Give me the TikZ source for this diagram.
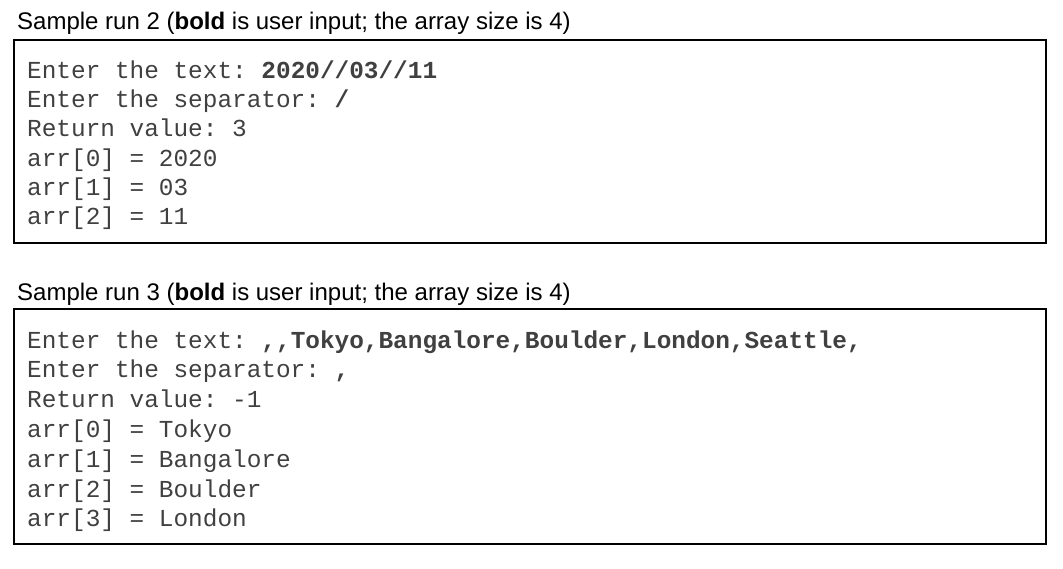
\documentclass[tikz,border=0pt]{standalone}
\usepackage{fontspec}
\setmainfont{Liberation Sans}
\setmonofont{Liberation Mono}
\begin{document}
\begin{tikzpicture}[x=1pt,y=-1pt,
  hd/.style={anchor=base west,inner sep=0,font=\fontsize{24}{28}\selectfont},
  cd/.style={anchor=base west,inner sep=0,font=\fontsize{24.4}{28}\ttfamily\selectfont,text=black!75},
  bx/.style={draw=black,line width=1.3pt}]
\useasboundingbox (0,0) rectangle (1063,568);
\node[hd] (h1) at (17,29) {Sample run 2 (\textbf{bold} is user input; the array size is 4)};
\draw[bx] (14,40) rectangle (1046,243);
\node[cd] (a1) at (27,78) {Enter the text: \textbf{2020//03//11}};
\node[cd] (a2) at (27,107) {Enter the separator: \textbf{/}};
\node[cd] (a3) at (27,136) {Return value: 3};
\node[cd] (a4) at (27,166) {arr[0] = 2020};
\node[cd] (a5) at (27,195) {arr[1] = 03};
\node[cd] (a6) at (27,224) {arr[2] = 11};
\node[hd] (h2) at (17,300) {Sample run 3 (\textbf{bold} is user input; the array size is 4)};
\draw[bx] (14,309) rectangle (1046,544);
\node[cd] (b1) at (27,348) {Enter the text: \textbf{,,Tokyo,Bangalore,Boulder,London,Seattle,}};
\node[cd] (b2) at (27,377) {Enter the separator: \textbf{,}};
\node[cd] (b3) at (27,407) {Return value: -1};
\node[cd] (b4) at (27,437) {arr[0] = Tokyo};
\node[cd] (b5) at (27,467) {arr[1] = Bangalore};
\node[cd] (b6) at (27,497) {arr[2] = Boulder};
\node[cd] (b7) at (27,526) {arr[3] = London};
\end{tikzpicture}
\end{document}
